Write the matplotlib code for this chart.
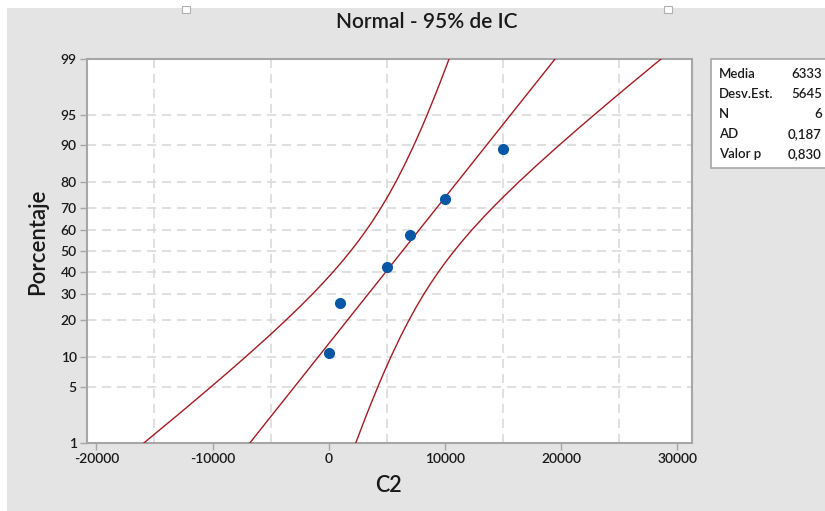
import numpy as np
import matplotlib
matplotlib.use("Agg")
import matplotlib.pyplot as plt
from matplotlib.patches import Rectangle
from matplotlib.ticker import FixedLocator, MultipleLocator
from statistics import NormalDist

# --- data ---
c2_values = [0, 1000, 5000, 7000, 10000, 15000]
c2_pct = [10.9, 26.6, 42.2, 57.8, 73.4, 89.1]

fit_pct = [1, 99]
fit_x = [-6799, 19465]

band_pct = [1, 2, 3, 5, 7, 10, 15, 20, 25, 30, 35, 40, 45, 50,
            55, 60, 65, 70, 75, 80, 85, 90, 93, 95, 97, 98, 99]
band_lo = [-15916, -13578, -12106, -10127, -8727, -7149, -5207, -3718, -2487, -1425,
           -483, 370, 1153, 1883, 2573, 3230, 3867, 4495, 5129, 5784, 6495,
           7321, 7935, 8445, 9128, 9610, 10348]
band_hi = [2318, 3054, 3538, 4221, 4731, 5345, 6171, 6882, 7537, 8171,
           8799, 9436, 10093, 10783, 11513, 12296, 13149, 14091, 15153, 16384,
           17873, 19815, 21393, 22793, 24772, 26242, 28582]

y_ticks = [1, 5, 10, 20, 30, 40, 50, 60, 70, 80, 90, 95, 99]
x_ticks = [-20000, -10000, 0, 10000, 20000, 30000]

stat_names = ["Media", "Desv.Est.", "N", "AD", "Valor p"]
stat_values = ["6333", "5645", "6", "0,187", "0,830"]

W, H = 825, 511
FONT = ["Lato", "DejaVu Sans"]
plt.rcParams["font.family"] = FONT
WT = "semibold"

_nd = NormalDist()
_inv = np.vectorize(_nd.inv_cdf, otypes=[float])
_cdf = np.vectorize(_nd.cdf, otypes=[float])


def to_z(p):
    p = np.clip(np.asarray(p, dtype=float) / 100.0, 1e-6, 1 - 1e-6)
    return _inv(p)


def from_z(z):
    return _cdf(np.asarray(z, dtype=float)) * 100.0


def fx(px):
    return px / W


def fy(py):
    return 1 - py / H


fig = plt.figure(figsize=(W / 100, H / 100), dpi=100)
fig.patch.set_facecolor("white")
fig.add_artist(Rectangle((fx(7), 0), 1, fy(8), transform=fig.transFigure,
                         facecolor="#e4e4e4", edgecolor="none", zorder=0))
for hx in (182, 664):
    fig.add_artist(Rectangle((fx(hx), fy(13)), 8 / W, 7 / H, transform=fig.transFigure,
                             facecolor="white", edgecolor="#b0b0b0", lw=0.8, zorder=1))

ax = fig.add_axes([fx(86.5), fy(443), fx(692) - fx(86.5), fy(59) - fy(443)])
ax.set_facecolor("white")
ax.set_yscale("function", functions=(to_z, from_z))

red = "#a21c22"
ax.plot(band_lo, band_pct, color=red, lw=1.0, zorder=3)
ax.plot(band_hi, band_pct, color=red, lw=1.0, zorder=3)
ax.plot(fit_x, fit_pct, color=red, lw=1.0, zorder=3)
ax.plot(c2_values, c2_pct, "o", color="#0757a6", ms=7, mec="#0757a6", zorder=4)

ax.set_xlim(-20850, 31250)
ax.set_ylim(1, 99)
ax.xaxis.set_major_locator(FixedLocator(x_ticks))
ax.xaxis.set_minor_locator(MultipleLocator(5000))
ax.yaxis.set_major_locator(FixedLocator(y_ticks))
ax.yaxis.set_minor_locator(FixedLocator([]))
ax.set_xticklabels([str(t) for t in x_ticks])
ax.set_yticklabels([str(t) for t in y_ticks])

grid_kw = dict(color="#dadada", lw=1.2, ls=(0, (5.5, 3.5)))
ax.grid(True, which="minor", axis="x", **grid_kw)
ax.grid(True, which="major", axis="y", **grid_kw)
ax.set_axisbelow(True)

ax.tick_params(which="major", direction="out", length=5, width=1, color="#a6a6a6",
               labelsize=10, labelcolor="#1a1a1a", pad=2)
ax.tick_params(which="minor", length=0)
for lab in ax.get_xticklabels() + ax.get_yticklabels():
    lab.set_fontweight(WT)
for sp in ax.spines.values():
    sp.set_color("#a6a6a6")
    sp.set_linewidth(1.5)

fig.text(fx(427), fy(22), "Normal - 95% de IC", ha="center", va="center",
         fontsize=15, fontweight=WT, color="#1a1a1a")
fig.text(fx(388), fy(486), "C2", ha="center", va="center",
         fontsize=15.5, fontweight=WT, color="#1a1a1a")
fig.text(fx(38), fy(242), "Porcentaje", ha="center", va="center", rotation=90,
         fontsize=16, fontweight=WT, color="#1a1a1a")

# statistics box
fig.add_artist(Rectangle((fx(711), fy(168)), 1, fy(59) - fy(168), transform=fig.transFigure,
                         facecolor="white", edgecolor="#a6a6a6", lw=1.2, zorder=2))
for i, (name, val) in enumerate(zip(stat_names, stat_values)):
    yy = fy(73.5 + i * 20.2)
    fig.text(fx(719), yy, name, ha="left", va="center", fontsize=9.5,
             fontweight=WT, color="#1a1a1a", zorder=3)
    fig.text(fx(822), yy, val, ha="right", va="center", fontsize=9.5,
             fontweight=WT, color="#1a1a1a", zorder=3)

fig.savefig("out.png", dpi=100, facecolor="white")
